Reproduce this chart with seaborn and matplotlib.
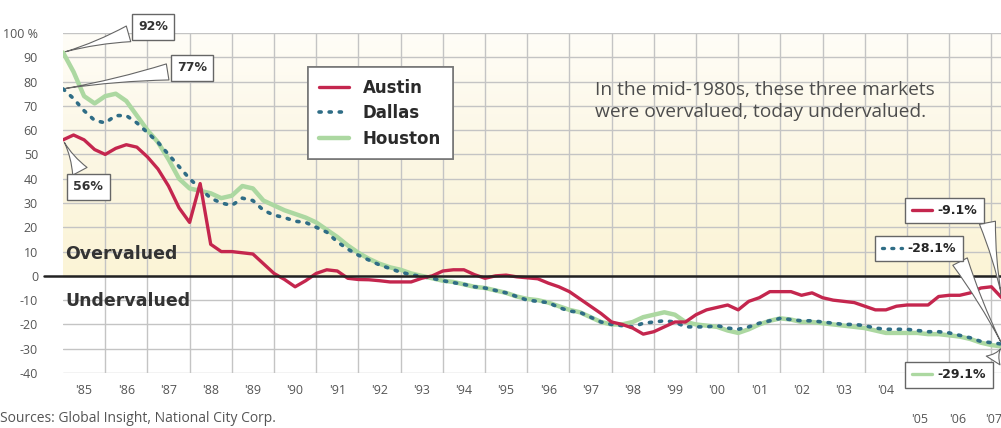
import numpy as np
import pandas as pd
import matplotlib
matplotlib.use("Agg")
import matplotlib.pyplot as plt
import seaborn as sns
from matplotlib.legend import Legend
from matplotlib.lines import Line2D
from matplotlib.colors import LinearSegmentedColormap

# quarterly readings, 1985 Q1 .. 2007 Q2 (% over/under valued)
quarters = np.arange(1985, 2007.26, 0.25)

austin = [56, 58, 56, 52,
          50, 52.5, 54, 53,
          49, 44, 37, 28,
          22, 38, 13, 10,
          10, 9.5, 9, 5,
          1, -1.5, -4.5, -2,
          1, 2.5, 2, -1,
          -1.5, -1.6, -2, -2.5,
          -2.5, -2.5, -1, 0,
          2, 2.5, 2.5, 0.5,
          -1, 0, 0.3, -0.4,
          -0.8, -1.2, -3, -4.5,
          -6.5, -9.5, -12.5, -15.5,
          -19, -20, -21.5, -24,
          -23, -21, -19, -19,
          -16, -14, -13, -12,
          -14, -10.5, -9, -6.5,
          -6.5, -6.5, -8, -7,
          -9, -10, -10.5, -11,
          -12.5, -14, -14, -12.5,
          -12, -12, -12, -8.5,
          -8, -8, -7, -5,
          -4.5, -9.1]

dallas = [77, 73, 68, 64,
          63, 66, 66, 63,
          59, 55, 50, 45,
          40, 36, 32, 30,
          29, 32, 31, 27,
          25, 24, 22.5, 22,
          20, 18, 14, 11,
          8.5, 6.5, 4.5, 3,
          1.5, 0.5, -0.3, -1,
          -2, -2.8, -3.5, -4.5,
          -5, -6, -7, -8.5,
          -10, -10.5, -11, -13,
          -14.5, -15, -17, -19,
          -20, -20.5, -21, -19.5,
          -19, -18.5, -19, -21,
          -21, -21, -20.5, -21.5,
          -22, -21, -19.5, -18.5,
          -17.5, -18, -18.5, -18.5,
          -19, -19.5, -20, -20,
          -20.5, -21.5, -22, -22,
          -22, -22.5, -23, -23,
          -23.5, -24.5, -25.5, -27,
          -27.5, -28.1]

houston = [92, 84, 74, 71,
           74, 75, 72, 66,
           60, 55, 48, 40,
           36, 35, 34, 32,
           33, 37, 36, 31,
           29, 27, 25.5, 24,
           22, 19, 16, 12.5,
           9.5, 7, 5, 3.5,
           2.5, 1, 0, -1,
           -2, -2.5, -3.5, -4.5,
           -5, -6, -7, -8.5,
           -9.5, -10, -11, -12.5,
           -14, -15, -17, -19,
           -20, -20, -19, -17,
           -16, -15, -16, -19,
           -20, -20.5, -21, -22.5,
           -23.5, -22, -20, -18.5,
           -17.5, -18, -19, -19,
           -19.5, -20, -20.5, -21,
           -21.5, -22.5, -23.5, -23.5,
           -23.5, -23.5, -24, -24,
           -24.5, -25, -26, -27.5,
           -28.5, -29.1]

year_labels = ["'85", "'86", "'87", "'88", "'89", "'90", "'91", "'92", "'93", "'94",
               "'95", "'96", "'97", "'98", "'99", "'00", "'01", "'02", "'03", "'04"]
late_labels = ["'05", "'06", "'07"]
late_pos = [2005.3, 2006.2, 2007.05]

ends = {"Austin": ("-9.1%", -9.1), "Dallas": ("-28.1%", -28.1), "Houston": ("-29.1%", -29.1)}
starts = {"Houston": ("92%", 92), "Dallas": ("77%", 77), "Austin": ("56%", 56)}

c_austin = "#c4264e"
c_dallas = "#2f6d86"
c_houston = "#acd8a1"

df = pd.DataFrame({"quarter": quarters, "Austin": austin, "Dallas": dallas, "Houston": houston})

sns.set_style("white")
plt.rcParams["font.family"] = ["Open Sans", "DejaVu Sans"]
bold_fam = ["DejaVu Sans"]

fig = plt.figure(figsize=(10.01, 4.28), dpi=100)
ax = fig.add_axes([63 / 1001, 55 / 428, 938 / 1001, 340 / 428])

x0, x1 = 1985, 1985 + 938 / 42.2
# cream "overvalued" background
grad = np.linspace(0, 1, 100).reshape(-1, 1)
cream = LinearSegmentedColormap.from_list("cream", ["#fbf4d6", "#fcf7e4", "#fffdf7"])
ax.imshow(grad, extent=[x0, x1, 0, 100], origin="lower", aspect="auto", cmap=cream, zorder=0)

sns.lineplot(data=df, x="quarter", y="Houston", ax=ax, color=c_houston, lw=3.2,
             label="Houston", zorder=3)
sns.lineplot(data=df, x="quarter", y="Dallas", ax=ax, color=c_dallas, lw=2.6,
             linestyle=(0, (0.6, 2.2)), dash_capstyle="round", label="Dallas", zorder=4)
sns.lineplot(data=df, x="quarter", y="Austin", ax=ax, color=c_austin, lw=2.4,
             label="Austin", zorder=5)

ax.set_xlim(x0, x1)
ax.set_ylim(-40, 100)

ax.set_xticks(np.arange(1985.5, 2005, 1.0))
ax.set_xticklabels(year_labels, fontsize=9, color="#555555")
ax.set_xticks(np.arange(1986, 2008, 1.0), minor=True)
ax.set_yticks(np.arange(-40, 101, 10))
ax.set_yticklabels([f"{v}" if v != 100 else "100 %" for v in range(-40, 101, 10)],
                   fontsize=9, color="#555555")
ax.tick_params(axis="both", which="both", length=0)
ax.tick_params(axis="y", pad=18)
ax.tick_params(axis="x", pad=8)
ax.grid(which="major", axis="y", color="#c4c4c4", lw=1.0, zorder=1)
ax.grid(which="minor", axis="x", color="#c4c4c4", lw=1.0, zorder=1)
ax.grid(which="major", axis="x", visible=False)
for s in ax.spines.values():
    s.set_visible(False)
ax.set_xlabel("")
ax.set_ylabel("")

for lab, xp in zip(late_labels, late_pos):
    ax.text(xp, -0.138, lab, transform=ax.get_xaxis_transform(), ha="center", va="center",
            fontsize=9, color="#555555")

ax.axhline(0, xmin=-0.02, xmax=1, color="#222222", lw=1.8, clip_on=False, zorder=6)

# main legend
handles, labels = ax.get_legend_handles_labels()
order = [labels.index(n) for n in ["Austin", "Dallas", "Houston"]]
leg = ax.legend([handles[i] for i in order], [labels[i] for i in order],
                loc="upper left", bbox_to_anchor=(0.261, 0.9), borderaxespad=0,
                frameon=True, fancybox=False, framealpha=1, edgecolor="#777777",
                prop={"family": bold_fam, "weight": "bold", "size": 12},
                handlelength=1.8, labelspacing=0.45, borderpad=0.7, handletextpad=0.8)
leg.get_frame().set_linewidth(1.2)
for t in leg.get_texts():
    t.set_color("#2a2a2a")
ax.add_artist(leg)

ax.text(1997.6, 72, "In the mid-1980s, these three markets\nwere overvalued, today undervalued.",
        fontsize=13.8, color="#4d4d4d", va="center", ha="left", linespacing=1.25)
ax.text(1985.05, 9, "Overvalued", fontsize=12.5, fontweight="bold", family=bold_fam,
        color="#333333", va="center")
ax.text(1985.05, -10.5, "Undervalued", fontsize=12.5, fontweight="bold", family=bold_fam,
        color="#333333", va="center")

fig.text(0.0, 0.022, "Sources: Global Insight, National City Corp.", fontsize=10,
         color="#555555", ha="left", va="center")

wedge = dict(arrowstyle="wedge,tail_width=1.3,shrink_factor=0.3", fc="white",
             ec="#666666", lw=0.8)
box = dict(boxstyle="square,pad=0.5", fc="white", ec="#666666", lw=1.0)

start_box = {"Houston": (1987.13, 102.5), "Dallas": (1988.06, 85.6), "Austin": (1985.6, 36.6)}
for name, (txt, val) in starts.items():
    ax.annotate(txt, xy=(quarters[0], val), xytext=start_box[name], fontsize=9,
                fontweight="bold", family=bold_fam, color="#333333", ha="center", va="center",
                bbox=box, arrowprops=wedge, annotation_clip=False, zorder=7)

# end-value boxes with line samples
styles = {"Austin": dict(color=c_austin, lw=2.4),
          "Dallas": dict(color=c_dallas, lw=2.4, linestyle=(0, (0.6, 2.2)), dash_capstyle="round"),
          "Houston": dict(color=c_houston, lw=2.4)}
end_box = {"Austin": (0.898, 0.515), "Dallas": (0.866, 0.403), "Houston": (0.898, 0.032)}
end_tail = {"Austin": (0.985, 0.45), "Dallas": (0.955, 0.335), "Houston": (0.99, 0.03)}
for name, (txt, val) in ends.items():
    ax.annotate("", xy=(quarters[-1], val), xytext=end_tail[name], textcoords="axes fraction",
                arrowprops=dict(wedge, mutation_scale=9), annotation_clip=False, zorder=7)
    lg = Legend(ax, [Line2D([], [], **styles[name])], [txt], loc="upper left",
                bbox_to_anchor=end_box[name], borderaxespad=0, frameon=True, fancybox=False,
                framealpha=1, edgecolor="#666666",
                prop={"family": bold_fam, "weight": "bold", "size": 9},
                handlelength=1.6, borderpad=0.5, handletextpad=0.5)
    lg.get_frame().set_linewidth(1.0)
    lg.set_zorder(8)
    ax.add_artist(lg)

fig.savefig("out.png", dpi=100)
